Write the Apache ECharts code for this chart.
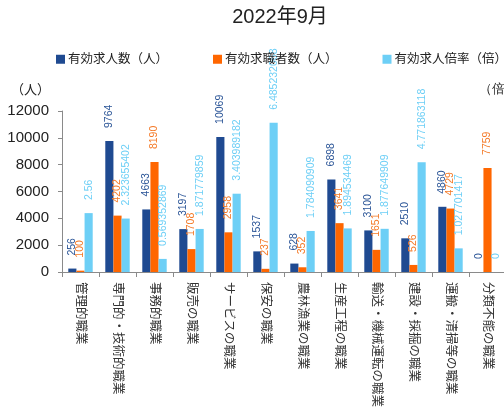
<!DOCTYPE html>
<html>
<head>
<meta charset="utf-8">
<script src="https://cdn.jsdelivr.net/npm/echarts@6/dist/echarts.min.js"></script>
<style>
html,body{margin:0;padding:0;overflow:hidden;background:#fff;}
#chart{width:560px;height:412px;}
</style>
</head>
<body>
<div id="chart"></div>
<script>
const titleText = '2022年9月';
const categories = ['管理的職業','専門的・技術的職業','事務的職業','販売の職業','サービスの職業','保安の職業','農林漁業の職業','生産工程の職業','輸送・機械運転の職業','建設・採掘の職業','運搬・清掃等の職業','分類不能の職業'];
const seriesNames = ['有効求人数（人）','有効求職者数（人）','有効求人倍率（倍）'];
const openings = [256, 9764, 4663, 3197, 10069, 1537, 628, 6898, 3100, 2510, 4860, 0];
const seekers = [100, 4202, 8190, 1708, 2958, 237, 352, 3641, 1651, 526, 4729, 7759];
const ratio = [2.56, 2.323655402, 0.569352869, 1.871779859, 3.403989182, 6.485232068, 1.784090909, 1.894534469, 1.877649909, 4.771863118, 1.027701417, 0];
const leftTicks = {min: 0, max: 12000, interval: 2000};
const rightTicks = {min: 0, max: 7, interval: 1};

const FONT = '"Liberation Sans", "Noto Sans CJK JP", sans-serif';
const colors = ['#1F4A91', '#FF6600', '#6DCFF6'];
const labelColors = ['#2B5597', '#F47A28', '#6DCFF6'];

function lbl(i) {
  return {
    show: true, position: 'top', rotate: 90, align: 'left', verticalAlign: 'middle',
    distance: 13, fontSize: 10.5, fontFamily: FONT, color: labelColors[i]
  };
}

const chart = echarts.init(document.getElementById('chart'), null, {renderer: 'canvas'});
chart.setOption({
  animation: false,
  textStyle: {fontFamily: FONT},
  title: {
    text: titleText, left: 'center', top: 2,
    textStyle: {fontSize: 20, fontWeight: 'normal', color: '#222', fontFamily: FONT}
  },
  legend: {
    left: 51, top: 48, itemWidth: 9, itemHeight: 9, itemGap: 45,
    icon: 'rect',
    textStyle: {fontSize: 12.5, color: '#222', fontFamily: FONT, padding: [0, 0, 0, -2]},
    data: seriesNames
  },
  grid: {left: 62, right: 54, top: 111, bottom: 140, containLabel: false},
  graphic: [{
    type: 'text', left: 479, top: 83,
    style: {text: '（倍）', fontSize: 13, fill: '#222', font: '13px ' + FONT}
  }],
  xAxis: {
    type: 'category', data: categories,
    axisLine: {lineStyle: {color: '#8A8A8A'}},
    axisTick: {show: true, length: 5, lineStyle: {color: '#8A8A8A'}},
    axisLabel: {interval: 0, rotate: -90, fontSize: 12.5, margin: 10, color: '#333', fontFamily: FONT},
    splitLine: {show: false}
  },
  yAxis: [{
    type: 'value', min: leftTicks.min, max: leftTicks.max, interval: leftTicks.interval,
    name: '（人）', nameLocation: 'end', nameGap: 14,
    nameTextStyle: {fontSize: 13, color: '#222', align: 'right', padding: [0, 12, 0, 0], fontFamily: FONT},
    axisLine: {show: true, lineStyle: {color: '#8A8A8A'}},
    axisTick: {show: true, length: 4, lineStyle: {color: '#8A8A8A'}},
    axisLabel: {fontSize: 15, margin: 13, color: '#222', fontFamily: FONT, formatter: v => String(v)},
    splitLine: {show: false}
  }, {
    type: 'value', min: rightTicks.min, max: rightTicks.max, interval: rightTicks.interval,
    position: 'right',
    axisLine: {show: true, lineStyle: {color: '#8A8A8A'}},
    axisTick: {show: true, length: 4},
    axisLabel: {show: false},
    splitLine: {show: false}
  }],
  series: [{
    name: seriesNames[0], type: 'bar', data: openings, yAxisIndex: 0,
    itemStyle: {color: colors[0]}, barGap: '0%', barCategoryGap: '34%', label: lbl(0)
  }, {
    name: seriesNames[1], type: 'bar', data: seekers, yAxisIndex: 0,
    itemStyle: {color: colors[1]}, barGap: '0%', barCategoryGap: '34%', label: lbl(1)
  }, {
    name: seriesNames[2], type: 'bar', data: ratio, yAxisIndex: 1,
    itemStyle: {color: colors[2]}, barGap: '0%', barCategoryGap: '34%', label: lbl(2)
  }]
});
</script>
</body>
</html>
